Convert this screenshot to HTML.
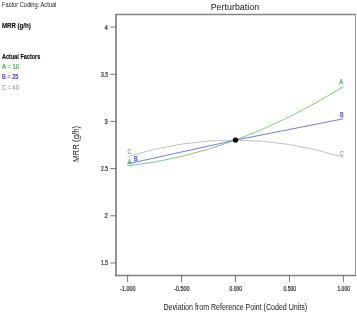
<!DOCTYPE html>
<html><head><meta charset="utf-8"><title>Perturbation</title>
<style>
html,body{margin:0;padding:0;background:#fff;}
svg{display:block;font-family:"Liberation Sans","DejaVu Sans",sans-serif;}
</style></head><body>
<svg width="357" height="313" viewBox="0 0 357 313">
<rect width="357" height="313" fill="#fff"/>
<g font-size="7.7" fill="#222">
<text x="2" y="7.1" textLength="54.3" lengthAdjust="spacingAndGlyphs">Factor Coding: Actual</text>
<text x="2" y="27.5" font-weight="bold" fill="#0a0a0a" stroke="#0a0a0a" stroke-width="0.12" textLength="28.8" lengthAdjust="spacingAndGlyphs">MRR (g/h)</text>
<text x="2" y="58.5" font-weight="bold" fill="#0a0a0a" stroke="#0a0a0a" stroke-width="0.12" textLength="38.3" lengthAdjust="spacingAndGlyphs">Actual Factors</text>
<text x="2" y="68.6" fill="#2fae2f" stroke="#2fae2f" stroke-width="0.2" textLength="17" lengthAdjust="spacingAndGlyphs">A = 10</text>
<text x="2" y="79.2" fill="#2a2af0" stroke="#2a2af0" stroke-width="0.2" textLength="16.5" lengthAdjust="spacingAndGlyphs">B = 25</text>
<text x="2" y="89.6" fill="#a0a0a0" stroke="#a0a0a0" stroke-width="0.15" textLength="16.8" lengthAdjust="spacingAndGlyphs">C = 40</text>
</g>
<text x="210.7" y="9.6" font-size="9.7" fill="#151515" textLength="48.4" lengthAdjust="spacingAndGlyphs">Perturbation</text>
<line x1="116" x2="355.4" y1="14.5" y2="14.5" stroke="#858585" stroke-width="1.4"/>
<line x1="355.4" x2="355.4" y1="13.8" y2="276.2" stroke="#949494" stroke-width="1"/>
<line x1="116" x2="116" y1="13.8" y2="276.2" stroke="#808080" stroke-width="1.7"/>
<line x1="115.2" x2="355.9" y1="275.5" y2="275.5" stroke="#808080" stroke-width="1.5"/>
<g stroke="#666" stroke-width="0.9"><line x1="110.2" x2="116" y1="27.10" y2="27.10"/><line x1="110.2" x2="116" y1="74.28" y2="74.28"/><line x1="110.2" x2="116" y1="121.45" y2="121.45"/><line x1="110.2" x2="116" y1="168.62" y2="168.62"/><line x1="110.2" x2="116" y1="215.80" y2="215.80"/><line x1="110.2" x2="116" y1="262.98" y2="262.98"/><line y1="275.5" y2="282.2" x1="127.60" x2="127.60"/><line y1="275.5" y2="282.2" x1="181.55" x2="181.55"/><line y1="275.5" y2="282.2" x1="235.50" x2="235.50"/><line y1="275.5" y2="282.2" x1="289.45" x2="289.45"/><line y1="275.5" y2="282.2" x1="343.40" x2="343.40"/></g>
<g font-size="6.5" fill="#2a2a2a" stroke="#2a2a2a" stroke-width="0.22"><text x="104.60" y="29.50" textLength="3.3" lengthAdjust="spacingAndGlyphs">4</text><text x="101.00" y="76.68" textLength="6.9" lengthAdjust="spacingAndGlyphs">3.5</text><text x="104.60" y="123.85" textLength="3.3" lengthAdjust="spacingAndGlyphs">3</text><text x="101.00" y="171.02" textLength="6.9" lengthAdjust="spacingAndGlyphs">2.5</text><text x="104.60" y="218.20" textLength="3.3" lengthAdjust="spacingAndGlyphs">2</text><text x="101.00" y="265.38" textLength="6.9" lengthAdjust="spacingAndGlyphs">1.5</text><text x="120.35" y="290.8" textLength="15.1" lengthAdjust="spacingAndGlyphs">-1.000</text><text x="174.30" y="290.8" textLength="15.1" lengthAdjust="spacingAndGlyphs">-0.500</text><text x="229.55" y="290.8" textLength="12.5" lengthAdjust="spacingAndGlyphs">0.000</text><text x="283.50" y="290.8" textLength="12.5" lengthAdjust="spacingAndGlyphs">0.500</text><text x="337.45" y="290.8" textLength="12.5" lengthAdjust="spacingAndGlyphs">1.000</text></g>
<text transform="translate(79.3 161.9) rotate(-90)" font-size="8.3" fill="#151515" textLength="36" lengthAdjust="spacingAndGlyphs">MRR (g/h)</text>
<text x="163.5" y="310.2" font-size="8.5" fill="#151515" textLength="143.7" lengthAdjust="spacingAndGlyphs">Deviation from Reference Point (Coded Units)</text>
<path d="M127.60 156.50 Q235.50 123.25 343.40 157.40" fill="none" stroke="#adadad" stroke-width="0.75"/><path d="M127.60 163.90 Q235.50 138.85 343.40 118.80" fill="none" stroke="#4848f2" stroke-width="0.75"/><path d="M127.60 165.90 Q235.50 153.95 343.40 86.60" fill="none" stroke="#4dbb4d" stroke-width="0.75"/>
<circle cx="235.5" cy="140.1" r="2.65" fill="#000"/>
<g font-size="6.9" stroke-width="0.25">
<text x="127.5" y="154.2" fill="#a0a0a0" stroke="#a0a0a0" textLength="3.8" lengthAdjust="spacingAndGlyphs">C</text>
<text x="134.1" y="160.9" fill="#4040f0" stroke="#4040f0" textLength="3.6" lengthAdjust="spacingAndGlyphs">B</text>
<text x="127.4" y="164.1" fill="#45b845" stroke="#45b845" textLength="4" lengthAdjust="spacingAndGlyphs">A</text>
<text x="339.2" y="84.3" fill="#45b845" stroke="#45b845" textLength="4" lengthAdjust="spacingAndGlyphs">A</text>
<text x="340" y="116.7" fill="#4040f0" stroke="#4040f0" textLength="3.6" lengthAdjust="spacingAndGlyphs">B</text>
<text x="339.9" y="155.9" fill="#a0a0a0" stroke="#a0a0a0" textLength="3.8" lengthAdjust="spacingAndGlyphs">C</text>
</g>
</svg>
</body></html>
